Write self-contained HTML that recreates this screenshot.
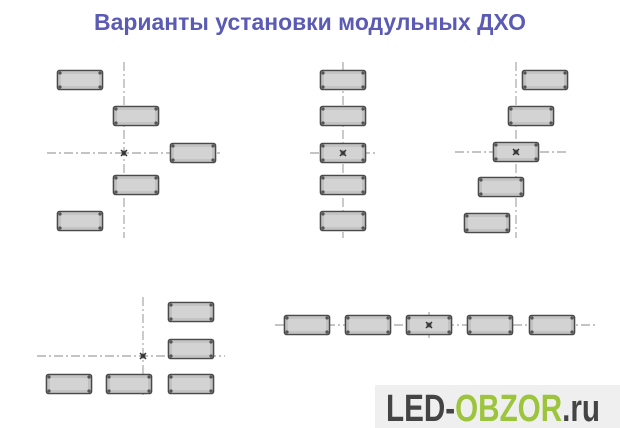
<!DOCTYPE html>
<html><head><meta charset="utf-8"><style>
html,body{margin:0;padding:0;background:#fff;width:620px;height:428px;overflow:hidden}
</style></head><body>
<svg width="620" height="428" viewBox="0 0 620 428" xmlns="http://www.w3.org/2000/svg">
<defs>
<g id="b">
<rect x="0.5" y="0.5" width="45" height="19" rx="2" fill="#d3d3d3" stroke="#4a4a4a" stroke-width="1.6"/>
<rect x="3" y="3" width="40" height="14" rx="2" fill="none" stroke="#999" stroke-width="0.6"/>
<circle cx="3" cy="3" r="1.6" fill="#555"/><circle cx="43" cy="3" r="1.6" fill="#555"/>
<circle cx="3" cy="17" r="1.6" fill="#555"/><circle cx="43" cy="17" r="1.6" fill="#555"/>
</g>
<g id="x"><path d="M-3,-3L3,3M-3,3L3,-3" stroke="#333" stroke-width="1.5"/><circle r="2" fill="none" stroke="#333" stroke-width="0.8"/></g>
</defs>
<text x="310" y="30" text-anchor="middle" textLength="432" lengthAdjust="spacingAndGlyphs" font-family="'Liberation Sans Narrow','Liberation Sans',sans-serif" font-size="23" font-weight="bold" fill="#5b5bb5">Варианты установки модульных ДХО</text>
<g stroke="#8a8a8a" stroke-width="0.9" stroke-dasharray="9 3 2 3" fill="none">
<path d="M124,62V238M47,153H220"/>
<path d="M343,62V238M310,153H378"/>
<path d="M516,62V238M455,152H568"/>
<path d="M143,297V395M37,356H225"/>
<path d="M275,325H598M429,312V340"/>
</g>
<use href="#b" x="57" y="70"/><use href="#b" x="113" y="106"/><use href="#b" x="170" y="143"/><use href="#b" x="113" y="175"/><use href="#b" x="57" y="211"/>
<use href="#b" x="320" y="70"/><use href="#b" x="320" y="106"/><use href="#b" x="320" y="143"/><use href="#b" x="320" y="175"/><use href="#b" x="320" y="211"/>
<use href="#b" x="522" y="70"/><use href="#b" x="508" y="106"/><use href="#b" x="493" y="142"/><use href="#b" x="478" y="177"/><use href="#b" x="464" y="213"/>
<use href="#b" x="168" y="302"/><use href="#b" x="168" y="339"/><use href="#b" x="168" y="374"/><use href="#b" x="46" y="374"/><use href="#b" x="106" y="374"/>
<use href="#b" x="284" y="315"/><use href="#b" x="345" y="315"/><use href="#b" x="406" y="315"/><use href="#b" x="467" y="315"/><use href="#b" x="529" y="315"/>
<use href="#x" x="124" y="153"/><use href="#x" x="343" y="153"/><use href="#x" x="516" y="152"/><use href="#x" x="143" y="356"/><use href="#x" x="429" y="325"/>
<rect x="375" y="385" width="245" height="43" fill="#efefef"/>
<text x="386" y="421" textLength="214" lengthAdjust="spacingAndGlyphs" font-family="'Liberation Sans Narrow','Liberation Sans',sans-serif" font-size="38" font-weight="bold" fill="#444">LED-<tspan fill="#9cc43d">OBZOR</tspan>.ru</text>
</svg>
</body></html>
